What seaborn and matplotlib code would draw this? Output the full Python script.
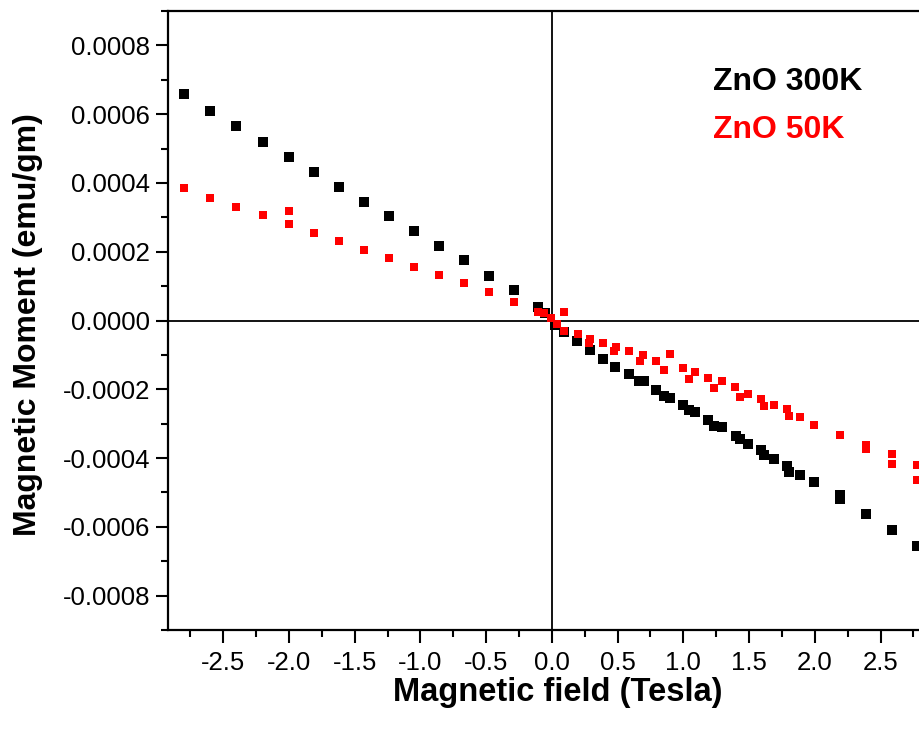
import matplotlib
matplotlib.use("Agg")
import matplotlib.pyplot as plt
import seaborn as sns
import pandas as pd
import numpy as np
from matplotlib.ticker import MultipleLocator, FormatStrFormatter
from matplotlib.lines import Line2D

# ---- data (field in Tesla, moment in emu/gm) ----
labels = ["ZnO 300K", "ZnO 50K"]
colors = ["black", "red"]

x_300 = [-2.80, -2.60, -2.40, -2.20, -2.00, -1.81, -1.62, -1.43, -1.24, -1.05,
         -0.86, -0.67, -0.48, -0.29, -0.105, -0.05, 0.027, 0.095, 0.19, 0.29,
         0.39, 0.48, 0.59, 0.66, 0.70, 0.795, 0.85, 0.90, 1.00, 1.04,
         1.09, 1.19, 1.23, 1.295, 1.40, 1.43, 1.49, 1.59, 1.61, 1.69,
         1.79, 1.80, 1.89, 1.99, 2.19, 2.19, 2.39, 2.59, 2.78]
y_300 = [6.59, 6.10, 5.65, 5.20, 4.75, 4.33, 3.87, 3.46, 3.04, 2.59,
         2.18, 1.75, 1.29, 0.88, 0.39, 0.21, -0.13, -0.32, -0.61, -0.86,
         -1.12, -1.34, -1.55, -1.77, -1.77, -2.01, -2.19, -2.26, -2.45, -2.59,
         -2.67, -2.88, -3.06, -3.11, -3.35, -3.46, -3.58, -3.77, -3.92, -4.02,
         -4.24, -4.40, -4.48, -4.70, -5.08, -5.20, -5.64, -6.09, -6.56]

x_50 = [-2.80, -2.60, -2.40, -2.20, -2.00, -2.00, -1.81, -1.62, -1.43, -1.24,
        -1.05, -0.86, -0.67, -0.48, -0.29, -0.105, -0.06, -0.01, 0.04, 0.09,
        0.09, 0.20, 0.29, 0.28, 0.39, 0.49, 0.475, 0.59, 0.69, 0.67,
        0.795, 0.85, 0.90, 1.00, 1.09, 1.04, 1.19, 1.295, 1.23, 1.39,
        1.49, 1.43, 1.59, 1.61, 1.69, 1.79, 1.80, 1.89, 1.99, 2.19,
        2.39, 2.39, 2.59, 2.59, 2.78, 2.78]
y_50 = [3.86, 3.55, 3.30, 3.08, 3.18, 2.82, 2.54, 2.30, 2.05, 1.81,
        1.56, 1.32, 1.08, 0.82, 0.54, 0.26, 0.21, 0.06, -0.10, -0.30,
        0.26, -0.39, -0.54, -0.66, -0.66, -0.78, -0.90, -0.90, -1.00, -1.19,
        -1.17, -1.43, -0.98, -1.39, -1.51, -1.70, -1.66, -1.77, -1.97, -1.94,
        -2.13, -2.23, -2.28, -2.50, -2.45, -2.57, -2.77, -2.81, -3.03, -3.32,
        -3.61, -3.75, -3.87, -4.16, -4.19, -4.64]

scale = 1e-4  # y values above are in units of 1e-4 emu/gm

df300 = pd.DataFrame({"field": x_300, "moment": np.array(y_300) * scale, "sample": labels[0]})
df50 = pd.DataFrame({"field": x_50, "moment": np.array(y_50) * scale, "sample": labels[1]})

sns.set_style("white", {"xtick.bottom": True, "ytick.left": True,
                        "xtick.direction": "out", "ytick.direction": "out",
                        "text.color": "black", "axes.labelcolor": "black",
                        "xtick.color": "black", "ytick.color": "black",
                        "axes.edgecolor": "black"})
plt.rcParams["font.family"] = ["Liberation Sans", "DejaVu Sans"]
plt.rcParams["axes.unicode_minus"] = False

fig = plt.figure(figsize=(9.2, 7.36), dpi=100)
ax = fig.add_axes([168 / 920, 1 - 630 / 736, 1 - 168 / 920, (630 - 11) / 736])

sns.scatterplot(data=df300, x="field", y="moment", color=colors[0], marker="s",
                s=60, linewidth=0, ax=ax, zorder=3)
sns.scatterplot(data=df50, x="field", y="moment", color=colors[1], marker="s",
                s=38, linewidth=0, ax=ax, zorder=4)

ax.set_xlim(-2.92, 2.80)
ax.set_ylim(-0.0009, 0.0009)

ax.axhline(0, color="black", lw=1.3, zorder=2)
ax.axvline(0, color="black", lw=1.3, zorder=2)

ax.xaxis.set_major_locator(MultipleLocator(0.5))
ax.xaxis.set_minor_locator(MultipleLocator(0.25))
ax.yaxis.set_major_locator(MultipleLocator(0.0002))
ax.yaxis.set_minor_locator(MultipleLocator(0.0001))
ax.xaxis.set_major_formatter(FormatStrFormatter("%.1f"))
ax.yaxis.set_major_formatter(FormatStrFormatter("%.4f"))

ax.xaxis.set_tick_params(which="major", direction="out", length=9, width=1.5,
                         labelsize=18.5, pad=6, bottom=True, top=False,
                         color="black", labelcolor="black")
ax.yaxis.set_tick_params(which="major", direction="out", length=9, width=1.5,
                         labelsize=18.5, pad=4, left=True, right=False,
                         color="black", labelcolor="black")
ax.xaxis.set_tick_params(which="minor", direction="out", length=5, width=1.5,
                         bottom=True, top=False, color="black")
ax.yaxis.set_tick_params(which="minor", direction="out", length=5, width=1.5,
                         left=True, right=False, color="black")

for side in ["left", "bottom", "top"]:
    ax.spines[side].set_visible(True)
    ax.spines[side].set_color("black")
    ax.spines[side].set_linewidth(1.6)
ax.spines["right"].set_visible(False)

ax.set_xlabel("Magnetic field (Tesla)", fontsize=23.5, fontweight="bold", color="black")
ax.set_ylabel("Magnetic Moment (emu/gm)", fontsize=23, fontweight="bold", color="black")
ax.xaxis.set_label_coords((558 - 168) / 752, (630 - 693) / 619)
ax.yaxis.set_label_coords((28 - 168) / 752, (630 - 325) / 619)
ax.xaxis.label.set_va("center")
ax.yaxis.label.set_va("center")

handles = [Line2D([], [], linestyle="none", marker=None, color=c) for c in colors]
leg = ax.legend(handles, labels, loc="upper left",
                bbox_to_anchor=((713 - 168) / 752, (630 - 67) / 619),
                frameon=False, handlelength=0, handletextpad=0, borderpad=0,
                borderaxespad=0, labelspacing=0.55,
                prop={"size": 23, "weight": "bold"})
for t, c in zip(leg.get_texts(), colors):
    t.set_color(c)

fig.savefig("out.png", dpi=100)
